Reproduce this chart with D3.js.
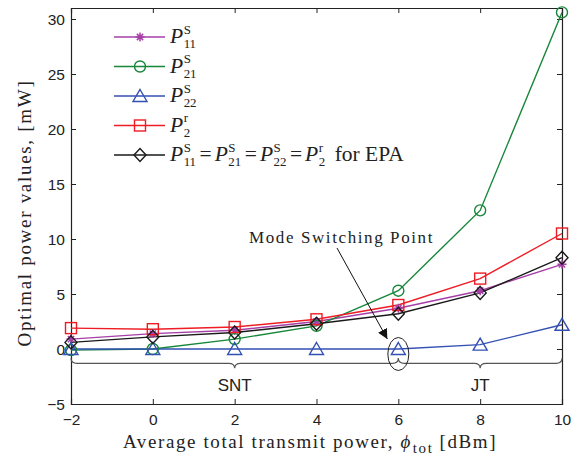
<!DOCTYPE html>
<html><head><meta charset="utf-8">
<script src="https://cdn.jsdelivr.net/npm/d3@7"></script>
<style>
body{margin:0;background:#fff;}
svg{display:block;}
</style></head>
<body>
<svg id="chart" width="584" height="459"></svg>
<script>
// ---------- data ----------
const xValues = [-2, 0, 2, 4, 6, 8, 10];
const p11s = [0.9, 1.4, 1.7, 2.5, 3.7, 5.3, 7.7];
const p21s = [-0.1, 0.0, 0.9, 2.1, 5.3, 12.6, 30.6];
const p22s = [0.0, 0.0, 0.0, 0.0, 0.0, 0.4, 2.2];
const p2r  = [1.9, 1.8, 2.0, 2.7, 4.0, 6.4, 10.5];
const epa  = [0.6, 1.1, 1.5, 2.3, 3.2, 5.1, 8.3];
const xTicks = [-2, 0, 2, 4, 6, 8, 10];
const yTicks = [-5, 0, 5, 10, 15, 20, 25, 30];
const braces = [ {from: -2, to: 6, mid: 2, label: "SNT"}, {from: 6, to: 10, mid: 8, label: "JT"} ];
const braceLevel = -1.3;
const switchPoint = {x: 6, y: 0};

const series = [
  {key: "p11", values: p11s, color: "#a63fa8", marker: "star", sup: "S", sub: "11"},
  {key: "p21", values: p21s, color: "#17873a", marker: "circle", sup: "S", sub: "21"},
  {key: "p22", values: p22s, color: "#3350b3", marker: "triangle", sup: "S", sub: "22"},
  {key: "p2r", values: p2r,  color: "#ee1c24", marker: "square", sup: "r", sub: "2"},
  {key: "epa", values: epa,  color: "#1a1a1a", marker: "diamond", sup: null, sub: null}
];

// ---------- layout ----------
const svg = d3.select("#chart");
const L = 71, R = 562, T = 8, B = 404;
const x = d3.scaleLinear().domain([-2, 10]).range([L, R]);
const y = d3.scaleLinear().domain([-5, 31]).range([B, T]);
const serif = "'Liberation Serif', 'DejaVu Serif', serif";
const sans = "'Liberation Sans', Arial, sans-serif";

// axes (MATLAB style: inward ticks, box)
const gx = svg.append("g").attr("transform", `translate(0,${B})`)
  .call(d3.axisBottom(x).tickValues(xTicks).tickSize(-5).tickPadding(10)
    .tickFormat(d => d < 0 ? "\u2212" + Math.abs(d) : d));
const gxTop = svg.append("g").attr("transform", `translate(0,${T})`)
  .call(d3.axisTop(x).tickValues(xTicks).tickSize(-5).tickFormat(""));
const gy = svg.append("g").attr("transform", `translate(${L},0)`)
  .call(d3.axisLeft(y).tickValues(yTicks).tickSize(-5).tickPadding(6)
    .tickFormat(d => d < 0 ? "\u2212" + Math.abs(d) : d));
const gyR = svg.append("g").attr("transform", `translate(${R},0)`)
  .call(d3.axisRight(y).tickValues(yTicks).tickSize(-5).tickFormat(""));
[gx, gxTop, gy, gyR].forEach(g => {
  g.selectAll(".domain").attr("stroke", "#222").attr("stroke-width", 1.2);
  g.selectAll(".tick line").attr("stroke", "#222").attr("stroke-width", 1);
  g.selectAll("text").attr("font-family", sans).attr("font-size", 15.5).attr("fill", "#222");
});
gy.selectAll(".tick text").attr("dy", "0.35em");

// ---------- markers ----------
function drawMarker(g, type, cx, cy, color) {
  if (type === "circle") {
    g.append("circle").attr("cx", cx).attr("cy", cy).attr("r", 5.5)
      .attr("fill", "none").attr("stroke", color).attr("stroke-width", 1.4);
  } else if (type === "square") {
    g.append("rect").attr("x", cx - 5.5).attr("y", cy - 5.5).attr("width", 11).attr("height", 11)
      .attr("fill", "none").attr("stroke", color).attr("stroke-width", 1.4);
  } else if (type === "triangle") {
    g.append("path").attr("d", `M${cx},${cy - 6.5}L${cx + 7},${cy + 5.5}L${cx - 7},${cy + 5.5}Z`)
      .attr("fill", "none").attr("stroke", color).attr("stroke-width", 1.4);
  } else if (type === "diamond") {
    g.append("path").attr("d", `M${cx},${cy - 6.5}L${cx + 6},${cy}L${cx},${cy + 6.5}L${cx - 6},${cy}Z`)
      .attr("fill", "none").attr("stroke", color).attr("stroke-width", 1.4);
  } else if (type === "star") {
    const r = 4.5, q = r * 0.7;
    g.append("path").attr("d",
      `M${cx - r},${cy}L${cx + r},${cy}M${cx},${cy - r}L${cx},${cy + r}M${cx - q},${cy - q}L${cx + q},${cy + q}M${cx - q},${cy + q}L${cx + q},${cy - q}`)
      .attr("stroke", color).attr("stroke-width", 1.5);
  }
}

// ---------- series ----------
const line = d3.line().x((d, i) => x(xValues[i])).y(d => y(d));
const plot = svg.append("g");
series.forEach(s => {
  plot.append("path").datum(s.values).attr("d", line)
    .attr("fill", "none").attr("stroke", s.color).attr("stroke-width", 1.4);
});
series.forEach(s => {
  const mg = plot.append("g");
  s.values.forEach((v, i) => drawMarker(mg, s.marker, x(xValues[i]), y(v), s.color));
});

// ---------- braces ----------
const braceColor = "#555";
const bg = svg.append("g");
braces.forEach(b => {
  const x0 = x(b.from), x1 = x(b.to), xm = x(b.mid), yb = y(braceLevel);
  const c = 6, h = 5;
  const d = `M${x0},${yb - h} Q${x0},${yb} ${x0 + c},${yb} L${xm - c},${yb} Q${xm},${yb} ${xm},${yb + h}` +
            ` Q${xm},${yb} ${xm + c},${yb} L${x1 - c},${yb} Q${x1},${yb} ${x1},${yb - h}`;
  bg.append("path").attr("d", d).attr("fill", "none").attr("stroke", braceColor).attr("stroke-width", 1.2);
  bg.append("text").attr("x", xm).attr("y", y(braceLevel) + 28).attr("text-anchor", "middle")
    .attr("font-family", sans).attr("font-size", 17).attr("fill", "#222").text(b.label);
});

// ---------- annotation ----------
svg.append("ellipse").attr("cx", x(switchPoint.x)).attr("cy", y(switchPoint.y) + 5)
  .attr("rx", 10.5).attr("ry", 16.5).attr("fill", "none").attr("stroke", "#222").attr("stroke-width", 1);
svg.append("defs").append("marker").attr("id", "ah").attr("viewBox", "0 0 10 10")
  .attr("refX", 10).attr("refY", 5).attr("markerWidth", 10).attr("markerHeight", 10)
  .attr("markerUnits", "userSpaceOnUse").attr("orient", "auto")
  .append("path").attr("d", "M0,0L10,5L0,10Z").attr("fill", "#111");
svg.append("line").attr("x1", 337).attr("y1", 248).attr("x2", x(switchPoint.x) - 11).attr("y2", y(switchPoint.y) - 10)
  .attr("stroke", "#111").attr("stroke-width", 1).attr("marker-end", "url(#ah)");
svg.append("text").attr("x", 249).attr("y", 243).attr("font-family", serif).attr("font-size", 17)
  .attr("letter-spacing", 1.6).attr("fill", "#222").text("Mode Switching Point");

// ---------- math text helper (one <text>, tspans) ----------
function measure(str, size, italic, ls) {
  const t = svg.append("text").attr("font-family", serif).attr("font-size", size)
    .attr("font-style", italic ? "italic" : "normal").attr("letter-spacing", ls || 0).text(str);
  const w = t.node().getComputedTextLength();
  t.remove();
  return w;
}
function mathText(x0, y0, size, parts, ls, anchorCenter) {
  const sm = size * 0.6, up = size * 0.44, down = size * 0.25;
  const t = svg.append("text").attr("x", x0).attr("y", y0).attr("font-family", serif)
    .attr("font-size", size).attr("fill", "#222").attr("letter-spacing", ls || 0);
  let pendingDx = 0, pendingDy = 0;
  const add = (str, opts) => {
    const sp = t.append("tspan").text(str)
      .attr("font-size", opts.size).attr("font-style", opts.it ? "italic" : "normal");
    if (pendingDx) sp.attr("dx", pendingDx);
    if (pendingDy) sp.attr("dy", pendingDy);
    pendingDx = 0; pendingDy = 0;
    return sp;
  };
  parts.forEach(p => {
    if (p.P) {
      add(p.P, {size: size, it: true});
      pendingDx = 0.5;
      const wSup = p.sup ? measure(p.sup, sm, false, ls) : 0;
      const wSub = p.sub ? measure(p.sub, sm, false, ls) : 0;
      let base = 0;
      if (p.sup) { pendingDy = -up; base = -up; add(p.sup, {size: sm}); }
      if (p.sub) {
        if (p.sup) pendingDx = -wSup;
        pendingDy = down - base; base = down;
        add(p.sub, {size: sm});
        pendingDx = Math.max(0, wSup - wSub) + 0.5;
      } else {
        pendingDx = 0.5;
      }
      pendingDy = -base;
    } else if (p.sub) {
      pendingDy = p.sub; add(p.t, {size: p.size || size});
      pendingDy = -p.sub; pendingDx = p.pad || 0;
    } else {
      if (p.pre) pendingDx += p.pre;
      add(p.t, {size: p.size || size, it: p.it});
      pendingDx = p.pad || 0;
    }
  });
  if (anchorCenter != null) {
    const w = t.node().getBBox().width;
    t.attr("x", anchorCenter - w / 2);
  }
  return t;
}

// ---------- legend ----------
const lg = svg.append("g");
const legendRows = [37, 66.5, 96, 125.5, 155];
series.forEach((s, i) => {
  const yy = legendRows[i];
  lg.append("line").attr("x1", 114).attr("x2", 165).attr("y1", yy).attr("y2", yy)
    .attr("stroke", s.color).attr("stroke-width", 1.4);
  drawMarker(lg, s.marker, 140, yy, s.color);
  let parts;
  if (s.sup) parts = [{P: "P", sup: s.sup, sub: s.sub}];
  else parts = [
    {P: "P", sup: "S", sub: "11"}, {t: "=", pre: 3, pad: 3},
    {P: "P", sup: "S", sub: "21"}, {t: "=", pre: 3, pad: 3},
    {P: "P", sup: "S", sub: "22"}, {t: "=", pre: 3, pad: 3},
    {P: "P", sup: "r", sub: "2"}, {t: "for EPA", pre: 9}
  ];
  mathText(170, yy + 6, 21.5, parts);
});

// ---------- axis labels ----------
mathText(0, 448, 19, [
  {t: "Average total transmit power,\u00A0"}, {t: "\u03D5", it: true, pad: 1},
  {t: "tot", size: 15, sub: 5, pad: 6}, {t: "[dBm]"}
], 1.6, 310);

svg.append("text").attr("transform", `translate(31,213) rotate(-90)`)
  .attr("text-anchor", "middle").attr("font-family", serif).attr("font-size", 19)
  .attr("letter-spacing", 1.7).attr("fill", "#222")
  .text("Optimal power values, [mW]");
</script>
</body></html>
